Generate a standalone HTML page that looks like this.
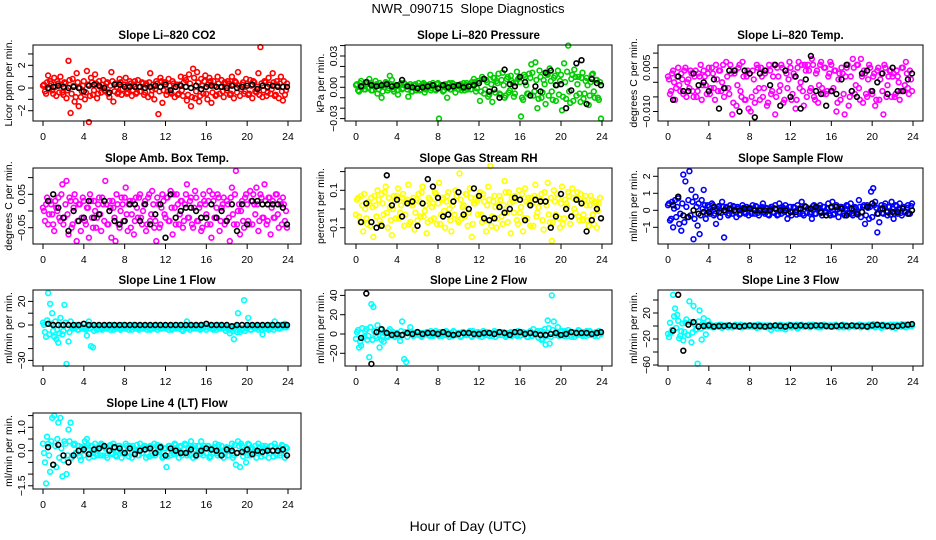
<!DOCTYPE html>
<html><head><meta charset="utf-8"><style>
html,body{margin:0;padding:0;background:#fff}
svg{display:block;font-family:"Liberation Sans",sans-serif}
</style></head><body>
<svg id="chart" width="936" height="540" viewBox="0 0 936 540" xmlns="http://www.w3.org/2000/svg">
<rect width="936" height="540" fill="#fff"/>
<text x="468" y="13" text-anchor="middle" font-size="13" xml:space="preserve" style="white-space:pre">NWR_090715  Slope Diagnostics</text>
<text x="468" y="531" text-anchor="middle" font-size="14">Hour of Day (UTC)</text>
</svg>
<script>
const hours = [0.1,0.3,0.5,0.7,0.9,1.1,1.3,1.5,1.7,1.9,2.1,2.3,2.5,2.7,2.9,3.1,3.3,3.5,3.7,3.9,4.1,4.3,4.5,4.7,4.9,5.1,5.3,5.5,5.7,5.9,6.1,6.3,6.5,6.7,6.9,7.1,7.3,7.5,7.7,7.9,8.1,8.3,8.5,8.7,8.9,9.1,9.3,9.5,9.7,9.9,10.1,10.3,10.5,10.7,10.9,11.1,11.3,11.5,11.7,11.9,12.1,12.3,12.5,12.7,12.9,13.1,13.3,13.5,13.7,13.9,14.1,14.3,14.5,14.7,14.9,15.1,15.3,15.5,15.7,15.9,16.1,16.3,16.5,16.7,16.9,17.1,17.3,17.5,17.7,17.9,18.1,18.3,18.5,18.7,18.9,19.1,19.3,19.5,19.7,19.9,20.1,20.3,20.5,20.7,20.9,21.1,21.3,21.5,21.7,21.9,22.1,22.3,22.5,22.7,22.9,23.1,23.3,23.5,23.7,23.9];
const hours2 = [0.0,0.2,0.4,0.6,0.8,1.0,1.2,1.4,1.6,1.8,2.0,2.2,2.4,2.6,2.8,3.0,3.2,3.4,3.6,3.8,4.0,4.2,4.4,4.6,4.8,5.0,5.2,5.4,5.6,5.8,6.0,6.2,6.4,6.6,6.8,7.0,7.2,7.4,7.6,7.8,8.0,8.2,8.4,8.6,8.8,9.0,9.2,9.4,9.6,9.8,10.0,10.2,10.4,10.6,10.8,11.0,11.2,11.4,11.6,11.8,12.0,12.2,12.4,12.6,12.8,13.0,13.2,13.4,13.6,13.8,14.0,14.2,14.4,14.6,14.8,15.0,15.2,15.4,15.6,15.8,16.0,16.2,16.4,16.6,16.8,17.0,17.2,17.4,17.6,17.8,18.0,18.2,18.4,18.6,18.8,19.0,19.2,19.4,19.6,19.8,20.0,20.2,20.4,20.6,20.8,21.0,21.2,21.4,21.6,21.8,22.0,22.2,22.4,22.6,22.8,23.0,23.2,23.4,23.6,23.8];
const blackHours = [0.5,1.0,1.5,2.0,2.5,3.0,3.5,4.0,4.5,5.0,5.5,6.0,6.5,7.0,7.5,8.0,8.5,9.0,9.5,10.0,10.5,11.0,11.5,12.0,12.5,13.0,13.5,14.0,14.5,15.0,15.5,16.0,16.5,17.0,17.5,18.0,18.5,19.0,19.5,20.0,20.5,21.0,21.5,22.0,22.5,23.0,23.5,23.9];
const xTicks = [0,4,8,12,16,20,24];

const co2 = [0.3,-0.5,1.1,0.6,-0.2,0.9,-0.7,0.4,1.0,-0.4, 0.5,-0.9,2.4,-2.2,0.8,-1.2,1.3,-1.6,-0.8,0.2, -1.0,1.5,-3.0,0.9,-0.6,1.2,-0.9,0.6,-0.4,0.7, -0.3,0.5,-0.8,1.4,-1.2,0.4,-0.5,0.8,-0.6,0.3, 0.9,-0.4,0.6,-0.7,0.3,-0.5,0.7,-0.3,0.5,-0.6, 0.4,-0.8,1.3,-0.2,-1.0,0.6,-2.3,0.9,-1.3,0.5, -0.6,0.8,-0.4,0.6,-0.8,0.3,-0.5,1.0,-0.7,0.9, -1.1,1.2,-1.6,1.7,-0.9,1.4,-1.2,0.8,-0.5,1.1, -1.0,0.9,-1.3,0.6,-0.7,1.0,-0.5,0.7,-0.8,0.4, 0.6,-0.6,1.0,-0.9,0.5,1.4,-0.7,0.3,-0.5,0.8, -0.6,0.7,-0.9,0.5,-0.4,1.3,3.6,-0.8,0.6,-0.7, 0.9,-0.5,1.3,-0.7,0.6,-0.9,1.0,-1.1,-0.6,0.4];
const co2B = [0.2,-0.3,0.5,-0.1,0.4,-0.5,0.1,0.6,-0.4,0.3, -0.6,0.4,-0.2,0.7,-0.5,0.2,-0.8,0.5,0.0,-0.3, 0.6,-0.4,0.3,-0.7,0.5,-0.2,0.4,-0.5,0.1,0.3, -0.2,0.4,-0.5,0.2,0.6,-0.3,0.1,-0.4,0.5,-0.1, 0.3,-0.5,0.2,0.4,-0.2,0.6,-0.4,0.1,-0.3,0.4, -0.4,0.2,0.5,-0.6,0.3,-0.1,0.4,-0.3,0.6,-0.2, 0.5,-0.3,0.2,-0.5,0.4,0.1,-0.6,0.3,-0.2,0.5, 0.7,-0.6,0.4,-0.8,0.9,-0.3,0.5,-0.7,0.2,0.6, -0.5,0.3,0.6,-0.4,0.2,-0.6,0.4,0.1,-0.3,0.5, -0.2,0.4,-0.5,0.3,0.6,-0.4,0.2,-0.1,0.5,-0.3, 0.4,-0.5,0.2,0.6,-0.3,0.1,-0.6,0.4,-0.2,0.5, -0.4,0.3,-0.1,0.5,-0.6,0.2,0.4,-0.3,0.6,-0.2];
const co2Mean = [0.0,0.1,0.2,0.1,0.0,0.1,0.0,-0.3,0.2,0.3,0.2,0.0,-0.4,0.3,0.3,0.1,0.1,0.1,0.1,0.0,0.1,0.2,0.1,0.3,-0.2,0.1,0.2,0.1,0.0,0.2,-0.1,0.1,0.2,0.1,0.1,0.0,0.2,0.0,0.1,0.2,0.3,-0.1,0.2,0.1,0.2,0.1,0.1,0.1];

const pressure = [.003,-.004,.006,.001,-.002,.005,.008,-.003,.002,.006, -.006,.004,-.010,.002,.005,-.003,.011,.007,-.004,.002, -.007,.003,-.002,.004,.001,-.009,.003,-.004,.002,-.003, .004,-.002,.003,-.005,.002,.001,-.003,.004,-.002,.003, -.030,.002,-.004,.003,-.010,.004,-.002,.003,-.005,.002, .001,-.003,.004,.002,-.002,.003,.005,.008,-.004,.006, -.013,.010,-.006,.007,-.009,.012,-.014,.009,.006,.013, -.007,.014,-.010,.008,-.005,.011,.004,-.006,.015,.009, -.028,-.012,.010,-.006,.013,.022,-.008,.024,-.020,.016, -.010,.007,-.016,.012,.018,-.004,.009,-.013,.016,.006, -.022,.023,-.011,.040,-.015,.012,.017,-.008,.010,-.014, .014,-.006,.009,-.017,.005,.013,-.010,.007,-.012,-.030];
const pressureB = [.002,-.003,.004,.000,-.002,.003,-.001,.004,-.003,.001, .003,-.002,.001,-.004,.002,.004,-.001,.003,-.002,.000, -.003,.002,.004,-.001,.003,-.002,.001,-.004,.002,.003, .001,-.003,.002,.004,-.002,.000,.003,-.001,.002,-.003, .004,-.001,.002,-.003,.001,.003,-.002,.004,-.001,.002, -.002,.003,.000,-.003,.004,.001,-.002,.003,.005,-.001, .006,-.004,.008,-.002,.005,-.007,.003,.009,-.005,.004, -.006,.007,.002,-.008,.010,-.003,.006,-.009,.004,.008, .005,-.010,.012,.002,-.006,.009,.014,-.004,.007,-.011, .010,-.005,.003,.013,-.008,.006,-.012,.011,.002,-.007, .012,-.009,.005,.015,-.004,.008,-.013,.010,.003,-.006, .009,-.011,.006,.002,-.008,.012,-.004,.007,-.010,.005];
const pressureMean = [.001,.005,.002,.001,.002,.003,.001,.002,.007,.001,.000,-.001,.000,.001,.002,-.001,.002,.000,.001,.002,.000,.001,.002,.004,.008,-.004,-.002,-.010,.017,.003,.001,.010,.005,-.008,.001,-.004,.014,.016,.002,.003,-.020,-.003,.023,.026,-.016,.008,.004,.002];

const licorTemp = [.001,-.003,.004,-.006,.002,-.001,.003,-.004,.005,.000, -.002,.003,-.005,.004,-.003,.002,-.006,.004,-.001,.003, -.004,.005,-.002,.006,-.003,.004,.000,-.005,.007,-.002, .006,-.011,.003,-.008,.005,-.003,.007,-.006,.002,-.009, -.010,.004,-.007,.006,-.002,.005,-.005,.003,-.008,.006, -.004,.002,-.011,.005,-.003,.006,-.007,.004,-.002,.007, -.006,.003,-.009,.005,-.002,.006,-.008,.004,.006,-.003, .008,-.005,.003,-.007,.006,-.002,.005,-.004,.002,.007, -.003,.004,-.010,.001,-.006,.003,-.011,.005,-.008,.002, .008,-.004,.006,-.002,.008,-.007,.003,-.005,.006,-.003, .002,-.008,.004,-.006,.003,-.011,.005,-.001,.004,-.005, .003,-.004,.002,-.006,.005,-.003,.007,-.002,.004,-.003];
const licorTempB = [.002,-.004,.003,.000,-.002,.005,-.003,.001,.004,-.005, .001,.004,-.003,.002,-.005,.003,.006,-.001,.002,-.004, .005,-.002,.003,-.006,.001,.004,-.003,.006,-.002,.002, -.004,.003,-.007,.004,-.001,.006,-.005,.002,-.006,.004, .003,-.005,.001,-.003,.005,-.006,.002,-.002,.004,-.007, .004,-.003,.006,-.005,.002,-.001,.005,-.006,.003,.001, .005,-.004,.002,-.006,.007,.000,-.003,.006,-.005,.004, -.002,.006,-.006,.004,-.001,.007,-.004,.005,-.003,.003, .006,-.002,.004,-.007,.003,.005,-.004,.002,.006,-.005, -.003,.005,-.001,.006,-.006,.002,.004,-.004,.001,.005, -.004,.003,-.006,.005,.001,-.003,.006,-.005,.002,.004, .002,-.005,.004,.000,-.003,.005,-.001,.003,-.004,.001];
const licorTempMean = [-.006,.002,-.003,-.003,.003,-.001,.000,-.003,.001,-.009,-.002,.004,.004,-.010,.004,.003,-.012,.003,.004,-.001,.006,-.008,.004,-.005,.002,-.009,.001,.009,-.003,-.004,-.008,-.003,-.004,.001,.006,-.003,-.005,.003,.004,-.003,.000,.003,-.004,.005,-.003,-.003,.001,.003];

const ambTemp = [.00,.02,-.04,.03,-.01,-.06,.01,.04,-.03,.08, -.02,.09,-.07,.03,-.04,.05,-.09,.02,-.06,.04, -.03,.01,-.08,.03,-.05,.00,-.02,.04,-.06,.02, .09,-.04,.03,-.08,.01,-.09,.02,-.05,.04,-.03, .07,-.06,.03,-.01,-.07,.04,-.02,.05,-.04,.02, -.06,.04,-.03,.06,-.05,-.09,.02,-.04,.05,-.01, .04,-.03,.06,-.07,.01,.05,-.04,.03,-.05,.02, .08,-.02,.04,-.05,.06,-.03,.01,-.06,.05,.02, -.04,.06,-.08,.03,-.02,.05,-.06,.01,.04,-.03, .02,-.09,.07,-.04,.12,.00,-.07,.03,-.05,.05, -.03,.06,-.04,.02,.07,-.06,.05,-.02,.08,-.04, .04,-.07,.03,-.02,.05,-.05,.02,.04,-.03,-.05];
const ambTempB = [.01,-.03,.04,-.01,.02,-.04,.03,.00,-.02,.05, -.04,.02,-.01,.04,-.05,.01,.03,-.03,.02,-.02, .03,-.04,.01,.05,-.02,.03,-.05,.02,-.01,.04, -.03,.02,-.04,.01,.03,-.02,.05,-.04,.00,.02, .04,-.01,.02,-.05,.03,-.03,.01,.04,-.02,.00, .03,-.04,.05,-.01,.02,-.03,.04,-.05,.01,.03, -.02,.04,-.03,.01,.05,-.04,.02,-.01,.03,-.03, .05,-.02,.03,-.04,.01,.04,-.03,.02,-.05,.03, -.01,.03,-.04,.05,-.02,.01,.04,-.03,.02,-.04, .03,-.02,.04,-.01,.05,-.04,.02,.00,-.03,.04, .02,-.04,.03,.05,-.01,.02,-.03,.04,-.02,.03, -.03,.04,.01,-.02,.05,-.01,.03,-.04,.02,.00];
const ambTempMean = [.03,.05,.01,-.02,-.06,.00,-.03,-.02,.03,-.02,-.01,.03,.00,-.03,-.04,-.03,.02,.02,-.03,.02,-.04,-.01,.02,-.08,.05,-.02,.00,.01,.01,.00,-.02,-.02,.02,-.02,.00,-.03,.02,-.06,.02,-.04,.03,.03,.02,.02,.02,.02,.01,-.04];

const rh = [.05,-.04,.07,-.12,.00,-.08,.03,.06,-.15,.02, .10,-.06,.08,-.03,.12,-.10,.01,-.14,.07,-.05, .11,-.02,.06,-.09,.04,.13,-.07,.02,-.11,.05, .08,-.04,.12,-.01,-.13,.06,-.06,.03,.09,-.08, .14,-.03,.05,-.10,.07,.00,-.12,.04,.10,-.06, .19,-.05,.02,.08,-.09,.11,-.15,.03,.06,-.03, .09,-.07,.04,-.12,.12,.23,-.04,.07,-.10,.02, .05,-.08,.15,-.02,.09,-.13,.04,.07,-.06,.10, .01,-.12,.11,-.05,.03,.06,-.09,.13,-.02,.05, .08,-.11,.04,.14,-.07,-.17,.10,-.03,.06,-.10, .12,-.05,.03,.09,-.08,.11,.00,.06,-.04,.08, -.06,.05,.02,-.09,.07,-.03,.04,-.10,.03,-.05];
const rhB = [-.03,.06,-.07,.02,.08,-.05,.04,-.09,.01,.07, -.04,.05,-.08,.03,.09,-.02,.06,-.06,.00,.04, .07,-.05,.02,.08,-.03,.05,-.08,.03,.06,-.02, -.06,.04,.09,-.04,.02,-.07,.05,.01,-.05,.08, .03,-.08,.06,-.01,.04,.09,-.06,.02,-.03,.07, -.07,.05,.01,-.04,.08,-.02,.06,-.08,.03,.04, .06,-.03,.08,-.06,.02,.05,-.09,.04,.01,-.05, .07,-.04,.02,.09,-.07,.03,.06,-.02,.05,-.08, -.02,.08,-.05,.04,.06,-.09,.03,.07,-.04,.01, .05,-.06,.09,.02,-.03,.06,-.07,.04,.08,-.05, .03,-.08,.05,.01,.07,-.04,.06,-.02,.09,-.06, .04,-.03,.07,-.06,.02,.05,-.08,.03,-.01,.06];
const rhMean = [-.07,.03,-.07,-.10,-.09,.18,.02,.05,-.04,.03,.04,-.09,.03,.16,.12,.06,-.04,-.03,.04,.09,-.03,.00,.11,.07,-.05,-.06,-.05,.01,-.02,.00,.06,.05,-.06,.02,.05,.04,.04,-.10,-.04,.08,.00,-.04,.05,.03,-.12,-.06,.00,-.05];

const sampleFlow = [.4,-.5,-1.0,.6,.2,-.8,-1.2,2.1,1.7,-.4, 2.3,1.2,-1.7,.8,-.9,-1.4,.6,1.2,-.5,.3, -.2,.4,-.3,-.8,.2,-.4,.5,-1.6,.2,-.3, .3,-.2,.2,-.4,.1,-.2,.3,-.1,.2,-.3, .1,.3,-.2,.2,-.3,.1,.4,-.2,.1,-.3, .2,-.1,.3,-.3,.4,-.2,.1,.3,-.5,.2, -.3,.2,-.1,.3,-.2,.5,-.3,.2,.1,-.2, -.5,.3,-.2,.1,.3,-.3,.2,-.1,.4,-.3, .5,-.2,.3,-.4,.2,.1,-.3,.3,-.2,.4, -.3,.2,-.1,.6,-.4,.2,-.8,.3,-.5,1.1, 1.3,.5,-1.3,-.7,.3,-.2,.4,-.3,.2,.5, -.5,.3,-.2,.4,-.3,.2,-.1,.3,-.2,.4];
const sampleFlowB = [.3,-.6,.5,.1,-.4,.7,-.2,.4,-.7,.2, .6,-.3,.5,-.5,.2,.4,-.3,.1,.3,-.2, .2,-.1,.3,-.2,.1,.25,-.15,.2,-.1,.15, -.2,.1,.25,-.1,.2,-.25,.05,.15,-.2,.1, .15,-.2,.1,.25,-.15,.05,.2,-.1,.15,-.25, .1,.2,-.15,.05,-.25,.15,.2,-.1,.1,-.2, .2,-.1,.15,-.25,.1,.05,-.2,.25,-.15,.1, -.1,.25,-.2,.1,.15,-.15,.2,-.05,.1,-.2, .15,-.25,.2,.05,-.1,.2,-.2,.1,.25,-.15, -.2,.1,.15,-.25,.2,-.1,.3,-.3,.15,.2, -.4,.3,.15,-.2,.1,-.15,.25,-.1,.2,-.25, .1,-.2,.25,.05,-.15,.2,-.1,.15,-.2,.25];
const sampleFlowMean = [.3,.8,-.3,-.4,.0,-.2,-.1,-.1,.2,-.1,.0,.1,.0,.0,.1,.1,.0,.0,.0,.0,.1,.0,.0,-.1,-.1,.1,.2,.1,.2,-.1,-.3,.2,.2,.1,-.3,.1,-.2,-.1,.2,.4,-.2,.1,-.1,-.1,-.1,.1,-.2,.0];

const line1 = [0,-10,27,18,10,-10,-12,-15,6,-8, 17,-33,-14,3,-3,-2,0,-4,-1,-2, -3,-9,3,-18,-19,-2,-4,-1,-3,-2, -1,-3,-2,0,-4,-1,-2,-3,0,-2, -3,-1,-2,-4,0,-2,-3,-1,-2,-3, -1,-2,-4,-1,-3,0,-2,-3,-1,-2, -2,-4,-1,-3,-2,0,-3,-2,-5,-1, 3,-2,-1,-3,-2,-1,-3,0,-2,-1, -2,-1,-3,-4,-2,0,-3,-1,-2,-5, -3,-7,-2,-12,-4,10,-6,-3,21,-2, 6,-4,-1,-3,-2,-4,-1,-8,-3,-1, -4,0,-2,3,-1,-3,0,-2,1,-1];
const line1B = [2,-6,4,-8,1,-5,3,-4,-7,0, -5,2,-3,-6,-1,-3,-2,-4,-1,-3, -2,-4,-1,-3,-2,-5,-1,-3,-2,-4, -1,-3,-2,-4,-1,-2,-3,-1,-4,-2, -3,-1,-4,-2,-1,-3,-2,-4,-1,-3, -2,-4,-1,-3,-2,-1,-4,-2,-3,-1, -3,-1,-2,-4,-1,-3,-2,-1,-4,-2, -1,-3,-4,-2,-1,-3,-2,-4,-1,-2, -4,-2,-1,-3,-2,-4,-1,-2,-3,-1, -2,-4,-3,-5,-1,-6,-2,-4,-3,-5, -3,-1,-4,-2,-3,-1,-2,-4,-1,-3, -2,-3,-1,-4,-2,-1,-3,-2,-1,-2];
const line1Mean = [1,0,0,0,0,0,0,1,0,0,0,0,0,0,0,0,0,0,0,0,0,0,0,0,0,0,0,0,0,0,0,1,0,0,0,0,-1,0,0,0,0,0,0,0,0,0,0,0];

const line2 = [2,-14,-12,-4,3,-6,-24,31,28,-2, 9,-14,-6,-8,2,-3,5,0,-2,1, -1,-7,13,-26,-29,2,7,-1,0,2, -1,1,-2,0,2,-1,3,-2,0,1, -2,1,0,-1,2,-3,1,3,-1,0, 1,-2,2,-1,0,3,-3,1,-1,2, -1,-3,0,2,-1,1,-2,3,0,-1, 2,-1,0,-2,1,2,-1,0,-2,1, -1,2,0,-3,1,-2,5,-1,3,0, -6,2,-11,14,-10,40,13,2,7,-1, 3,-2,1,4,-1,2,-3,0,4,1, -2,1,3,-1,2,0,-2,1,3,0];
const line2B = [-5,4,-8,6,-3,5,-2,7,-6,3, -4,2,5,-3,1,-2,3,-1,2,-3, 1,-2,3,-1,2,-3,1,2,-2,0, 2,-1,-3,1,0,2,-2,1,-1,3, -1,2,-2,1,3,-1,0,-2,2,-1, 1,-3,2,0,-1,2,-2,3,-1,1, -2,1,3,-1,2,-2,0,1,-3,2, 1,-1,2,-3,0,1,-2,2,-1,3, -2,2,-1,1,-3,3,-2,0,2,-4, 3,-5,5,-2,6,-3,4,-1,2,-2, 2,-1,3,-2,1,-3,2,0,-1,3, -1,2,-2,1,3,-1,0,2,-2,1];
const line2Mean = [-4,42,-31,2,5,1,-1,0,-1,1,0,2,0,1,1,0,2,0,-1,0,1,1,0,0,1,1,0,2,1,-1,2,2,0,1,0,-1,-1,0,1,-1,0,2,1,1,1,0,1,2];

const line3 = [-17,-10,48,27,17,-19,-8,-22,5,-14, 38,-25,31,-6,-58,24,-21,12,-13,8, 3,0,-2,1,-1,2,-3,0,1,-2, 0,-2,1,-1,0,2,-2,1,-1,0, 1,-1,0,-3,2,0,-1,1,-2,0, -6,-2,1,-4,0,-3,1,-5,0,2, -2,1,-1,-4,0,2,-1,0,1,-2, 0,1,-1,-2,1,0,2,-1,0,1, -1,0,1,-2,0,2,-1,1,-2,0, 1,-1,0,2,-2,1,0,-1,2,0, 3,-2,1,0,-3,2,-1,1,0,-2, 2,-3,1,-1,3,0,-2,2,1,0];
const line3B = [-12,5,-6,15,-3,8,-15,4,-9,10, -14,6,-10,3,-5,7,-4,2,-1,0, -1,1,-2,0,1,-1,2,-1,0,1, 1,-1,0,2,-1,1,-2,0,1,-1, -1,0,1,-1,2,-2,1,0,-1,1, 1,-2,0,1,-1,2,-1,-2,1,0, 0,1,-1,2,-2,0,1,-1,0,2, -1,2,0,-1,1,-2,1,0,-1,1, 1,-1,2,0,-1,1,-2,1,0,-1, 0,1,-1,1,2,-1,0,1,-2,1, 2,-1,0,1,-1,2,0,-1,1,2, -1,1,2,0,1,-1,2,1,0,1];
const line3Mean = [-7,48,-38,2,6,-1,0,1,-1,0,0,1,0,-1,0,1,0,0,-1,0,1,0,-1,1,0,1,0,0,1,1,0,-1,0,1,0,1,0,0,-1,1,2,1,0,-1,0,1,2,3];

const line4 = [-.1,-1.4,.3,-.9,1.4,1.5,-.7,1.2,1.4,-1.1, .4,-1.0,.9,1.2,-.2,.3,-.1,.2,-.4,.1, .4,.5,-.3,.2,-.1,.3,-.2,.1,.3,-.2, .1,-.3,.2,-.1,.3,-.2,.0,.2,-.3,.1, .3,-.1,.2,-.3,.1,.0,-.2,.3,-.1,.2, -.3,.1,.2,-.2,.3,-.1,.0,.2,-.3,.1, -.7,.2,-.2,.1,.3,-.1,-.3,.2,-.1,.3, -.2,.1,.4,-.3,.2,-.1,.0,.4,-.2,.1, .2,-.3,.1,-.1,.3,-.2,.0,.2,-.3,.1, -.2,.1,.3,-.2,-.6,.4,-.7,.2,-.1,-.5, .3,-.2,.1,.0,-.3,.3,-.1,.2,-.2,.1, -.3,.2,.0,.3,-.2,.1,-.1,.2,-.3,.1];
const line4B = [.3,-.5,.6,-.2,.4,-.6,.2,.5,-.3,.1, -.4,.3,-.2,.4,-.3,.25,-.1,.2,-.25,.15, -.2,.15,.25,-.1,.2,-.25,.1,.05,-.2,.25, .15,-.2,.05,.25,-.15,.1,-.25,.2,.0,-.1, -.15,.2,-.25,.1,.2,-.1,.25,-.2,.05,.15, .2,-.1,-.25,.15,.05,-.2,.25,-.05,.1,-.25, .1,-.25,.2,.0,-.15,.25,-.1,.15,-.2,.05, .25,-.1,-.2,.15,.05,-.25,.2,-.15,.1,.2, -.1,.2,-.25,.05,.15,-.1,.25,-.2,.0,-.15, .15,-.2,.1,-.3,.25,-.1,.2,.3,-.25,.05, -.2,.25,.05,-.15,.2,-.1,.15,-.25,.1,.2, .05,-.1,.2,-.25,.15,.0,-.2,.25,-.1,.15];
const line4Mean = [.15,-.6,.25,-.2,-.5,-.2,.0,.05,-.15,.05,.1,.2,.0,.15,.1,-.1,.1,-.15,.0,.05,.1,-.1,.15,-.2,.1,.0,-.1,-.1,.05,-.2,.0,.1,.05,.0,-.2,.05,.0,-.1,-.05,.05,-.15,.0,-.05,.0,.0,.0,.05,-.2];

const titles = ["Slope Li\u2013820 CO2","Slope Li\u2013820 Pressure","Slope Li\u2013820 Temp.","Slope Amb. Box Temp.","Slope Gas Stream RH","Slope Sample Flow","Slope Line 1 Flow","Slope Line 2 Flow","Slope Line 3 Flow","Slope Line 4 (LT) Flow"];
const yTitles = ["Licor ppm per min.","kPa per min.","degrees C per min.","degrees C per min.","percent per min.","ml/min per min.","ml/min per min.","ml/min per min.","ml/min per min.","ml/min per min."];
const yTickVals = [[-2,-1,0,1,2,3],[-0.03,-0.02,-0.01,0,0.01,0.02,0.03,0.04],[-0.010,-0.005,0,0.005,0.010],[-0.05,0,0.05,0.10],[-0.1,0,0.1,0.2],[-1,0,1,2],[-30,-20,-10,0,10,20],[-20,0,20,40],[-60,-40,-20,0,20,40],[-1.5,-1,-0.5,0,0.5,1,1.5]];
const yTickLabels = [["\u22122","","0","","2",""],["\u22120.03","","","0.00","","","0.03",""],["\u22120.010","","","0.005",""],["\u22120.05","","0.05",""],["\u22120.1","","0.1",""],["\u22121","0","1","2"],["\u221230","","","0","","20"],["\u221220","0","20","40"],["\u221260","","\u221220","","20",""],["\u22121.5","","","0.0","","1.0",""]];
const seriesColor = ["#ff0000","#00cc00","#ff00ff","#ff00ff","#ffff00","#0000ff","#00ffff","#00ffff","#00ffff","#00ffff"];
const seriesVals = [co2,pressure,licorTemp,ambTemp,rh,sampleFlow,line1,line2,line3,line4];
const seriesValsB = [co2B,pressureB,licorTempB,ambTempB,rhB,sampleFlowB,line1B,line2B,line3B,line4B];
const meanVals = [co2Mean,pressureMean,licorTempMean,ambTempMean,rhMean,sampleFlowMean,line1Mean,line2Mean,line3Mean,line4Mean];

const cols = [{l:33,r:301,x0:43,x24:288},{l:345,r:612,x0:356,x24:602},{l:658,r:923,x0:668,x24:913}];
const rows = [{t:45,b:121},{t:168,b:244},{t:290,b:366},{t:413,b:489}];
const yCal = [[[0,88],[2,65.3]],[[0,87.3],[0.03,56]],[[0,82.3],[0.005,67.7]],[[0,211],[0.05,194.3]],[[0,209],[0.1,190.3]],[[0,210.3],[1,193.3]],[[0,325],[20,301.4]],[[0,334],[20,314.7]],[[0,326],[20,313]],[[0,450.7],[0.5,439]]];

const NS = "http://www.w3.org/2000/svg";
const svg = document.getElementById('chart');
function mk(tag, attrs, parent){const e=document.createElementNS(NS,tag);for(const k in attrs)e.setAttribute(k,attrs[k]);(parent||svg).appendChild(e);return e;}

for (let p=0;p<10;p++){
  const c=cols[p%3], r=rows[Math.floor(p/3)];
  const g=mk('g',{});
  
  
  const xs=v=>c.x0+(c.x24-c.x0)*v/24;
  const cal=yCal[p];
  const ys=v=>cal[0][1]+(v-cal[0][0])*(cal[1][1]-cal[0][1])/(cal[1][0]-cal[0][0]);
  const cx=(c.l+c.r)/2, cy=(r.t+r.b)/2;
  const t=mk('text',{x:cx,y:r.t-6,'text-anchor':'middle','font-size':'11.5','font-weight':'bold'},g);
  t.textContent=titles[p];
  
  
  const yt=mk('text',{x:0,y:0,'text-anchor':'middle','font-size':'10.5',transform:`translate(${c.l-21},${cy}) rotate(-90)`},g);
  yt.textContent=yTitles[p];
  
  
  const pts=mk('g',{fill:'none','stroke-width':'1.6'},g);
  
  
  const valsB=seriesValsB[p];
  for(let i=0;i<Math.min(hours2.length,valsB.length);i++){
    const ci=mk('circle',{cx:xs(hours2[i]).toFixed(1),cy:ys(valsB[i]).toFixed(1),r:2.4,stroke:seriesColor[p]},pts);
    
    
  }
  const vals=seriesVals[p];
  for(let i=0;i<Math.min(hours.length,vals.length);i++){
    const ci=mk('circle',{cx:xs(hours[i]).toFixed(1),cy:ys(vals[i]).toFixed(1),r:2.4,stroke:seriesColor[p]},pts);
    
    
  }
  const mv=meanVals[p];
  for(let i=0;i<Math.min(blackHours.length,mv.length);i++){
    const ci=mk('circle',{cx:xs(blackHours[i]).toFixed(1),cy:ys(mv[i]).toFixed(1),r:2.4,stroke:'#000'},pts);
    
    
  }
  const bx=mk('rect',{x:c.l,y:r.t,width:c.r-c.l,height:r.b-r.t,fill:'none',stroke:'#000','stroke-width':'1'},g);
  
  
  xTicks.forEach(v=>{
    const x=xs(v);
    const tk=mk('line',{x1:x,x2:x,y1:r.b,y2:r.b+5,stroke:'#000'},g);
    
    
    const tl=mk('text',{x:x,y:r.b+19,'text-anchor':'middle','font-size':'10.5'},g);
    tl.textContent=String(v);
    
    
  });
  yTickVals[p].forEach((v,i)=>{
    const y=ys(v);
    const tk=mk('line',{x1:c.l-5,x2:c.l,y1:y,y2:y,stroke:'#000'},g);
    
    
    const lab=yTickLabels[p][i];
    if(lab){
      const tl=mk('text',{x:0,y:0,'text-anchor':'middle','font-size':'10.5',transform:`translate(${c.l-8},${y}) rotate(-90)`},g);
      tl.textContent=lab;
      
      
    }
  });
}
</script>
</body></html>
